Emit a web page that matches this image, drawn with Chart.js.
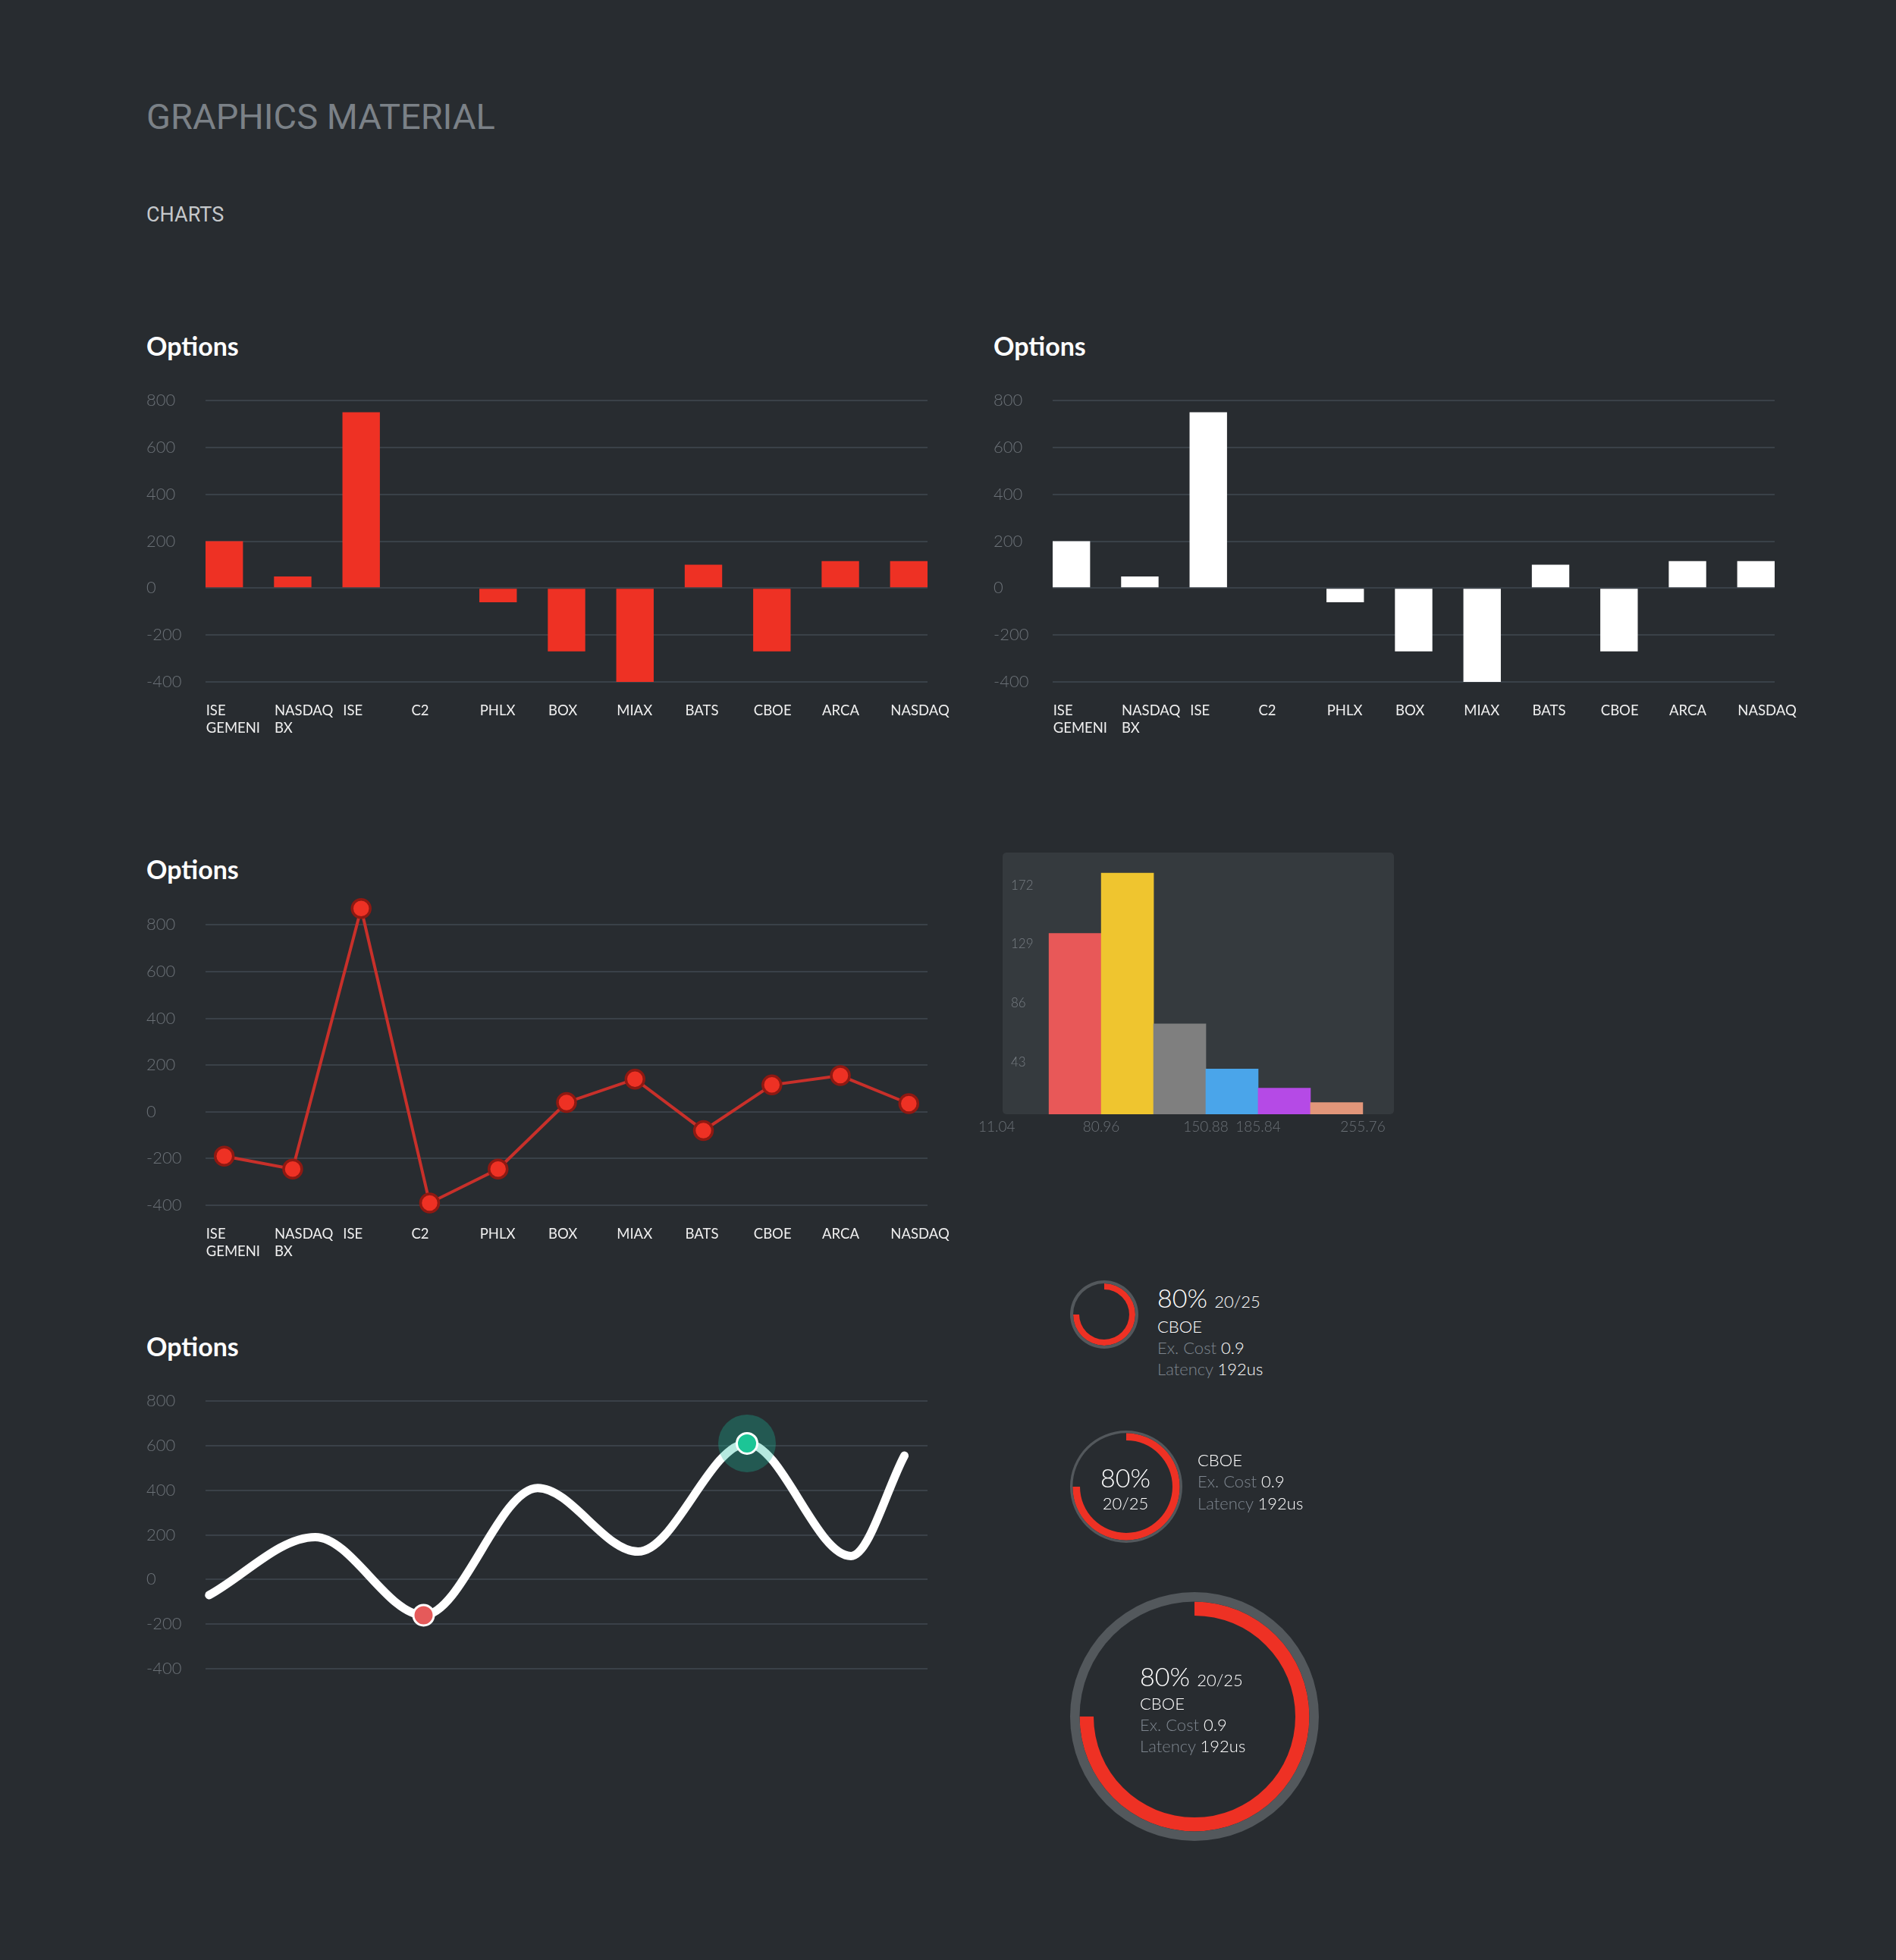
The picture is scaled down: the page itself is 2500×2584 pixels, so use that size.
<!DOCTYPE html>
<html>
<head>
<meta charset="utf-8">
<title>Graphics material</title>
<script src="https://cdn.jsdelivr.net/npm/chart.js@4.4.1/dist/chart.umd.min.js"></script>
<style>
  html, body { margin: 0; padding: 0; }
  body { width: 2500px; height: 2584px; background: #282c30; position: relative; overflow: hidden; font-family: Lato, sans-serif; }
  .abs { position: absolute; white-space: nowrap; line-height: 1.2; }
  .head { font-family: Roboto, sans-serif; }
  .title { font-size: 34px; font-weight: 700; color: #ffffff; }
  .val { color: #ffffff; font-weight: 300; }
  .lbl { color: #7d858e; }
  .sub { font-size: 22px; color: #ffffff; font-weight: 300; }
  canvas { position: absolute; }
</style>
</head>
<body>

<div class="abs head" style="left:193px; top:126px; font-size:47px; color:#7b8187;">GRAPHICS MATERIAL</div>
<div class="abs head" style="left:193px; top:267px; font-size:27px; color:#c5c8cb;">CHARTS</div>

<div class="abs title" style="left:193px; top:436px;">Options</div>
<div class="abs title" style="left:1310px; top:436px;">Options</div>
<div class="abs title" style="left:193px; top:1126px;">Options</div>
<div class="abs title" style="left:193px; top:1755px;">Options</div>

<canvas id="barRed" width="1130" height="501" style="left:193px; top:488px;"></canvas>
<canvas id="barWhite" width="1130" height="501" style="left:1310px; top:488px;"></canvas>
<canvas id="lineRed" width="1130" height="501" style="left:193px; top:1178px;"></canvas>
<canvas id="curve" width="1130" height="431" style="left:193px; top:1807px;"></canvas>
<canvas id="hist" width="596" height="410" style="left:1282px; top:1099px;"></canvas>

<canvas id="gauge1" width="90" height="90" style="left:1411px; top:1688px;"></canvas>
<canvas id="gauge2" width="148" height="148" style="left:1411px; top:1886px;"></canvas>
<canvas id="gauge3" width="328" height="328" style="left:1411px; top:2099px;"></canvas>

<!-- small gauge -->
<div class="abs val" style="left:1526px; top:1691px; font-size:34px;">80% <span style="font-size:22px">20/25</span></div>
<div class="abs sub" style="left:1526px; top:1736px;">CBOE</div>
<div class="abs sub" style="left:1526px; top:1764px;"><span class="lbl">Ex. Cost</span> 0.9</div>
<div class="abs sub" style="left:1526px; top:1792px;"><span class="lbl">Latency</span> 192us</div>

<!-- medium gauge -->
<div class="abs val" style="left:1384px; width:200px; text-align:center; top:1928px; font-size:34px;">80%</div>
<div class="abs sub" style="left:1384px; width:200px; text-align:center; top:1969px;">20/25</div>
<div class="abs sub" style="left:1579px; top:1912px;">CBOE</div>
<div class="abs sub" style="left:1579px; top:1940px;"><span class="lbl">Ex. Cost</span> 0.9</div>
<div class="abs sub" style="left:1579px; top:1969px;"><span class="lbl">Latency</span> 192us</div>

<!-- large gauge -->
<div class="abs val" style="left:1503px; top:2190px; font-size:34px;">80% <span style="font-size:22px">20/25</span></div>
<div class="abs sub" style="left:1503px; top:2233px;">CBOE</div>
<div class="abs sub" style="left:1503px; top:2261px;"><span class="lbl">Ex. Cost</span> 0.9</div>
<div class="abs sub" style="left:1503px; top:2289px;"><span class="lbl">Latency</span> 192us</div>

<script>
// exchanges on the x axis
const exchanges = [['ISE', 'GEMENI'], ['NASDAQ', 'BX'], 'ISE', 'C2', 'PHLX', 'BOX', 'MIAX', 'BATS', 'CBOE', 'ARCA', 'NASDAQ'];
const barValues = [200, 50, 750, null, -60, -270, -400, 100, -270, 115, 115];
const lineValues = [-190, -245, 870, -390, -245, 40, 140, -80, 115, 155, 35];
const yTicks = [-400, -200, 0, 200, 400, 600, 800];

// smooth curve (x in percent of the plot width)
const curveX = [0.5, 15.2, 30.2, 46.0, 59.9, 75.0, 89.4, 96.8];
const curveY = [-70, 190, -160, 410, 125, 610, 105, 555];
const lowMarker = 2;
const highMarker = 5;

// histogram
const histEdges = [46, 80.96, 115.92, 150.88, 185.84, 220.8, 255.76];
const histCounts = [132, 176, 66, 33, 19, 8.5];
const histColors = ['#e85858', '#efc52f', '#7f7f7f', '#4aa5ea', '#b54ae6', '#e2967a'];
const histXTicks = [11.04, 80.96, 150.88, 185.84, 255.76];
const histYTicks = [43, 86, 129, 172];

// gauges (arc share as drawn)
const gaugeArc = [75, 75, 75];

Chart.defaults.font.family = 'Lato, sans-serif';
Chart.defaults.animation = false;
Chart.defaults.events = [];
Chart.defaults.plugins.legend.display = false;
Chart.defaults.plugins.tooltip.enabled = false;

function axisOptions(showLabels) {
    return {
        responsive: false,
        layout: { padding: { top: 40, right: 100, bottom: showLabels ? 0 : 20, left: 0 } },
        scales: {
            x: {
                type: 'linear', min: -0.2735, max: 10.2735, offset: false,
                display: showLabels,
                grid: { display: false, drawTicks: false },
                border: { display: false },
                afterBuildTicks: s => { s.ticks = exchanges.map((_, i) => ({ value: i })); },
                afterFit: s => { s.height = 90; },
                ticks: {
                    callback: (v, i) => exchanges[i],
                    align: 'start', labelOffset: -24, padding: 26,
                    autoSkip: false, maxRotation: 0,
                    color: '#f0f0f0', font: { size: 18.5, lineHeight: 1.25 }
                }
            },
            y: {
                min: -400, max: 800,
                afterBuildTicks: s => { s.ticks = yTicks.map(v => ({ value: v })); },
                afterFit: s => { s.width = 78; },
                grid: { color: '#3a4148', lineWidth: 2, drawTicks: false },
                border: { display: false },
                ticks: { crossAlign: 'far', padding: 0, color: '#6b7177', font: { size: 22, weight: '300' } }
            }
        }
    };
}

function barChart(id, color) {
    new Chart(document.getElementById(id), {
        type: 'bar',
        data: {
            datasets: [{
                data: barValues.map((v, i) => ({ x: i, y: v })),
                backgroundColor: color,
                borderWidth: 0,
                barPercentage: 0.547,
                categoryPercentage: 1
            }]
        },
        options: axisOptions(true)
    });
}

barChart('barRed', '#ee3124');
barChart('barWhite', '#ffffff');

// line chart: the y range goes past 800 so the ISE point stays drawable,
// the top padding shrinks by the same amount so the 800 line stays put
const lineOpts = axisOptions(true);
lineOpts.scales.y.max = 884;
lineOpts.layout.padding.top = 14;

new Chart(document.getElementById('lineRed'), {
    type: 'line',
    data: {
        datasets: [{
            data: lineValues.map((v, i) => ({ x: i, y: v })),
            borderColor: '#c8302a',
            borderWidth: 4,
            tension: 0,
            pointRadius: 12,
            pointBorderWidth: 3.5,
            pointBackgroundColor: '#ee3124',
            pointBorderColor: '#8e1912',
            clip: false
        }]
    },
    options: lineOpts
});

// smooth white curve with two markers
const curveOpts = axisOptions(false);
curveOpts.scales.x = { type: 'linear', min: 0, max: 100, display: false };
const curvePoints = curveX.map((x, i) => ({ x: x, y: curveY[i] }));

new Chart(document.getElementById('curve'), {
    type: 'line',
    data: {
        datasets: [
            {
                data: curvePoints,
                borderColor: '#ffffff',
                borderWidth: 11,
                borderCapStyle: 'round',
                cubicInterpolationMode: 'monotone',
                pointRadius: 0,
                clip: false,
                order: 3
            },
            {
                data: [curvePoints[highMarker]],
                showLine: false,
                pointRadius: 38,
                pointBorderWidth: 0,
                pointBackgroundColor: 'rgba(26, 188, 156, 0.32)',
                clip: false,
                order: 2
            },
            {
                data: [curvePoints[lowMarker], curvePoints[highMarker]],
                showLine: false,
                pointRadius: 13.5,
                pointBorderWidth: 3,
                pointBorderColor: '#ffffff',
                pointBackgroundColor: ['#e55a5a', '#1cc596'],
                clip: false,
                order: 1
            }
        ]
    },
    options: curveOpts
});

// histogram panel background
const panelBg = {
    id: 'panelBg',
    beforeDraw(chart) {
        const { ctx, chartArea: a } = chart;
        ctx.save();
        ctx.fillStyle = '#353a3e';
        ctx.beginPath();
        ctx.roundRect(a.left, a.top, a.width, a.height, 5);
        ctx.fill();
        ctx.restore();
    }
};

new Chart(document.getElementById('hist'), {
    type: 'bar',
    data: {
        datasets: [{
            data: histCounts.map((c, i) => ({ x: (histEdges[i] + histEdges[i + 1]) / 2, y: c })),
            backgroundColor: histColors,
            borderWidth: 0,
            barPercentage: 1,
            categoryPercentage: 1
        }]
    },
    options: {
        responsive: false,
        layout: { padding: { top: 25, right: 40, bottom: 0, left: 40 } },
        scales: {
            x: {
                type: 'linear', min: 15, max: 276.6, offset: false,
                afterBuildTicks: s => { s.ticks = histXTicks.map(v => ({ value: v })); },
                afterFit: s => { s.height = 40; },
                grid: { display: false, drawTicks: false },
                border: { display: false },
                ticks: {
                    callback: (v, i) => histXTicks[i].toFixed(2),
                    padding: 5, maxRotation: 0, autoSkip: false,
                    color: '#6c7278', font: { size: 19, weight: '300' }
                }
            },
            y: {
                min: 0, max: 191,
                afterBuildTicks: s => { s.ticks = histYTicks.map(v => ({ value: v })); },
                afterFit: s => { s.width = 0; },
                grid: { display: false, drawTicks: false },
                border: { display: false },
                ticks: { mirror: true, padding: 11, labelOffset: 9, color: '#777d83', font: { size: 17, weight: '300' } }
            }
        }
    },
    plugins: [panelBg]
});

function gauge(id, fill, ringWeight, arcWeight, cutout) {
    new Chart(document.getElementById(id), {
        type: 'doughnut',
        data: {
            datasets: [
                { data: [100], backgroundColor: ['#53585c'], borderWidth: 0, weight: ringWeight },
                { data: [fill, 100 - fill], backgroundColor: ['#ee3124', 'rgba(0,0,0,0)'], borderWidth: 0, weight: arcWeight }
            ]
        },
        options: { responsive: false, cutout: cutout }
    });
}

gauge('gauge1', gaugeArc[0], 4, 8, '73.3%');
gauge('gauge2', gaugeArc[1], 3.3, 9.7, '82.4%');
gauge('gauge3', gaugeArc[2], 12.5, 18.5, '81.1%');
</script>
</body>
</html>
